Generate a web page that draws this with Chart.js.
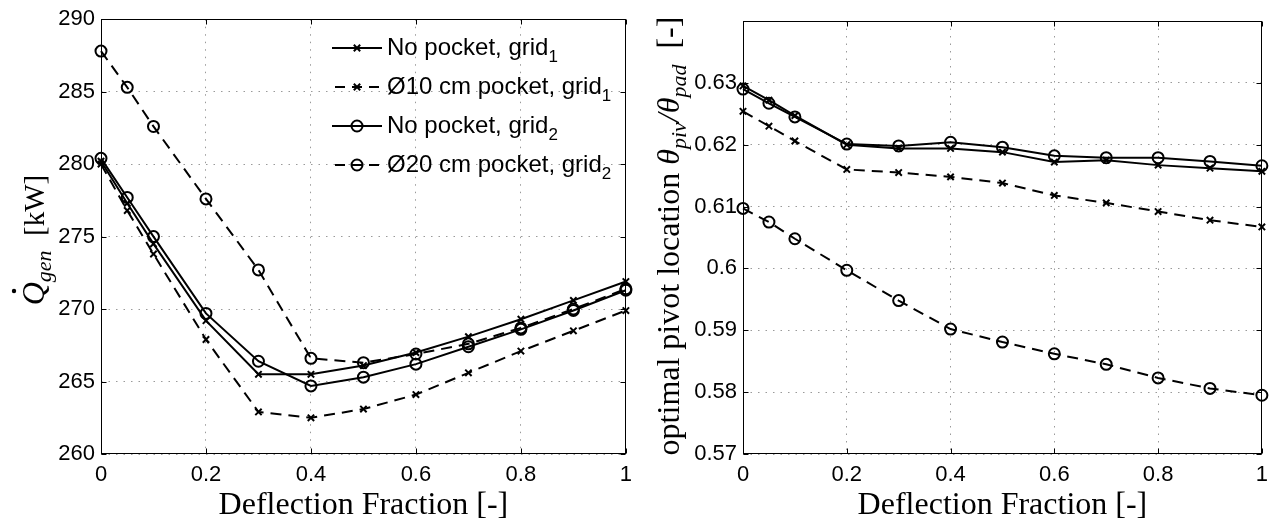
<!DOCTYPE html>
<html>
<head>
<meta charset="utf-8">
<script src="https://cdn.jsdelivr.net/npm/chart.js@4.4.1/dist/chart.umd.min.js"></script>
<style>
  html, body { margin: 0; padding: 0; background: #fff; }
  #wrap { position: relative; width: 1276px; height: 524px; }
  canvas { position: absolute; top: 0; }
  #chart-heat { left: 0; }
  #chart-pivot { left: 640px; }
</style>
</head>
<body>
<div id="wrap">
  <canvas id="chart-heat" width="640" height="524"></canvas>
  <canvas id="chart-pivot" width="636" height="524"></canvas>
</div>
<script>
const deflection = [0, 0.05, 0.1, 0.2, 0.3, 0.4, 0.5, 0.6, 0.7, 0.8, 0.9, 1];

const seriesLabels = ['No pocket, grid_1', 'Ø10 cm pocket, grid_1', 'No pocket, grid_2', 'Ø20 cm pocket, grid_2'];

// generated heat, kW
const heatNoPocketG1 = [280.2, 277.3, 274.5, 269.2, 265.5, 265.5, 266.1, 267.0, 268.1, 269.3, 270.6, 271.9];
const heatPocket10G1 = [280.0, 276.8, 273.8, 267.9, 262.9, 262.5, 263.1, 264.1, 265.6, 267.1, 268.5, 269.9];
const heatNoPocketG2 = [280.4, 277.7, 275.0, 269.7, 266.4, 264.7, 265.3, 266.2, 267.4, 268.6, 269.9, 271.3];
const heatPocket20G2 = [287.8, 285.3, 282.6, 277.6, 272.7, 266.6, 266.3, 266.9, 267.6, 268.7, 270.0, 271.4];

// optimal pivot location, theta_piv / theta_pad
const pivotNoPocketG1 = [0.6295, 0.6272, 0.6247, 0.6200, 0.6194, 0.6194, 0.6188, 0.6172, 0.6175, 0.6167, 0.6162, 0.6157];
const pivotPocket10G1 = [0.6254, 0.6230, 0.6206, 0.6160, 0.6155, 0.6148, 0.6138, 0.6118, 0.6106, 0.6092, 0.6078, 0.6067];
const pivotNoPocketG2 = [0.6290, 0.6267, 0.6245, 0.6201, 0.6198, 0.6204, 0.6196, 0.6182, 0.6179, 0.6179, 0.6173, 0.6166];
const pivotPocket20G2 = [0.6097, 0.6075, 0.6048, 0.5997, 0.5948, 0.5902, 0.5881, 0.5862, 0.5845, 0.5823, 0.5806, 0.5795];

const xTicks = [0, 0.2, 0.4, 0.6, 0.8, 1];
const xTickLabels = ['0', '0.2', '0.4', '0.6', '0.8', '1'];
const heatTicks = [260, 265, 270, 275, 280, 285, 290];
const heatTickLabels = ['260', '265', '270', '275', '280', '285', '290'];
const pivotTicks = [0.57, 0.58, 0.59, 0.6, 0.61, 0.62, 0.63, 0.64];
const pivotTickLabels = ['0.57', '0.58', '0.59', '0.6', '0.61', '0.62', '0.63', ''];

const SANS = 'Liberation Sans';
const SERIF = 'Liberation Serif';

function pairs(ys) {
  return deflection.map((x, i) => ({x: x, y: ys[i]}));
}

function makeDataset(label, ys, dashed, marker) {
  return {
    label: label,
    data: pairs(ys),
    borderColor: '#000',
    borderWidth: 2,
    borderDash: dashed ? [11, 7] : [],
    pointStyle: marker,
    pointRadius: marker === 'circle' ? 5.5 : 4.5,
    pointBorderWidth: 2,
    pointBorderColor: '#000',
    pointBackgroundColor: 'rgba(0,0,0,0)',
    tension: 0,
    clip: false
  };
}

// text with sub/superscript pieces: [text, font, dy, dot]
function richText(ctx, parts, cx, baseY) {
  let total = 0;
  for (const p of parts) {
    ctx.font = p[1];
    total += ctx.measureText(p[0]).width;
  }
  let u = cx - total / 2;
  for (const p of parts) {
    ctx.font = p[1];
    const w = ctx.measureText(p[0]).width;
    ctx.fillText(p[0], u, baseY + (p[2] || 0));
    if (p[3]) {
      ctx.beginPath();
      ctx.arc(u + w * 0.62, baseY - 30, 2.2, 0, Math.PI * 2);
      ctx.fill();
    }
    u += w;
  }
}

function leftText(ctx, parts, x, y) {
  let u = x;
  for (const p of parts) {
    ctx.font = p[1];
    ctx.fillText(p[0], u, y + (p[2] || 0));
    u += ctx.measureText(p[0]).width;
  }
}

// matlab style frame, inward ticks and axis titles
const matlabAxes = {
  id: 'matlabAxes',
  afterDraw(chart, args, opts) {
    const {ctx, chartArea: a, scales: {x, y}} = chart;
    ctx.save();
    ctx.strokeStyle = '#000';
    ctx.fillStyle = '#000';
    ctx.lineWidth = 1;
    ctx.setLineDash([]);
    const l = Math.round(a.left) + 0.5, r = Math.round(a.right) - 0.5;
    const t = Math.round(a.top) + 0.5, b = Math.round(a.bottom) - 0.5;
    ctx.strokeRect(l, t, r - l, b - t);
    ctx.beginPath();
    for (const tk of x.ticks) {
      const px = Math.round(x.getPixelForValue(tk.value)) + 0.5;
      ctx.moveTo(px, b); ctx.lineTo(px, b - 5);
      ctx.moveTo(px, t); ctx.lineTo(px, t + 5);
    }
    for (const tk of y.ticks) {
      const py = Math.round(y.getPixelForValue(tk.value)) + 0.5;
      ctx.moveTo(l, py); ctx.lineTo(l + 5, py);
      ctx.moveTo(r, py); ctx.lineTo(r - 5, py);
    }
    ctx.stroke();

    ctx.textBaseline = 'alphabetic';
    ctx.textAlign = 'left';
    richText(ctx, [['Deflection Fraction [-]', '32px ' + SERIF]], (a.left + a.right) / 2, 514);

    ctx.translate(opts.titleX, opts.titleY);
    ctx.rotate(-Math.PI / 2);
    richText(ctx, opts.title, 0, 0);
    ctx.restore();
  }
};

// legend drawn inside the axes, no box
const innerLegend = {
  id: 'innerLegend',
  afterDraw(chart, args, opts) {
    if (!opts.show) return;
    const ctx = chart.ctx;
    ctx.save();
    ctx.strokeStyle = '#000';
    ctx.fillStyle = '#000';
    ctx.textBaseline = 'middle';
    ctx.textAlign = 'left';
    chart.data.datasets.forEach((ds, i) => {
      const yy = opts.top + i * opts.step;
      ctx.lineWidth = 2;
      ctx.beginPath();
      if (ds.borderDash.length) {
        ctx.setLineDash([10, 7]);
        ctx.moveTo(opts.left + 3, yy); ctx.lineTo(opts.left + 47, yy);
      } else {
        ctx.setLineDash([]);
        ctx.moveTo(opts.left, yy); ctx.lineTo(opts.left + 50, yy);
      }
      ctx.stroke();
      ctx.setLineDash([]);
      ctx.fillStyle = 'rgba(0,0,0,0)';
      Chart.helpers.drawPoint(ctx, {
        pointStyle: ds.pointStyle,
        radius: ds.pointRadius,
        borderWidth: ds.pointBorderWidth,
        rotation: 0
      }, opts.left + 25, yy);
      ctx.fillStyle = '#000';
      const bits = ds.label.split('_');
      leftText(ctx, [[bits[0], '24px ' + SANS], [bits[1] || '', '17px ' + SANS, 9]], opts.left + 55, yy);
    });
    ctx.restore();
  }
};

function axisConfig(ticks, labels, fitWidth, minV, maxV) {
  return {
    type: 'linear',
    min: minV,
    max: maxV,
    afterBuildTicks: s => { s.ticks = ticks.map(v => ({value: v})); },
    afterFit: s => { s.width = fitWidth; },
    grid: { color: '#9a9a9a', lineWidth: 1, drawTicks: false },
    border: { display: false, dash: [1.5, 6] },
    ticks: {
      padding: 6,
      color: '#000',
      font: { family: SANS, size: 22 },
      autoSkip: false,
      callback: (v, i) => labels[i]
    }
  };
}

function xConfig() {
  return {
    type: 'linear',
    min: 0,
    max: 1,
    afterBuildTicks: s => { s.ticks = xTicks.map(v => ({value: v})); },
    afterFit: s => { s.height = 70; },
    grid: { color: '#9a9a9a', lineWidth: 1, drawTicks: false },
    border: { display: false, dash: [1.5, 6] },
    ticks: {
      padding: 8,
      color: '#000',
      maxRotation: 0,
      autoSkip: false,
      font: { family: SANS, size: 22 },
      callback: (v, i) => xTickLabels[i]
    }
  };
}

const dataHeat = {
  datasets: [
    makeDataset(seriesLabels[0], heatNoPocketG1, false, 'crossRot'),
    makeDataset(seriesLabels[1], heatPocket10G1, true, 'crossRot'),
    makeDataset(seriesLabels[2], heatNoPocketG2, false, 'circle'),
    makeDataset(seriesLabels[3], heatPocket20G2, true, 'circle')
  ]
};

const dataPivot = {
  datasets: [
    makeDataset(seriesLabels[0], pivotNoPocketG1, false, 'crossRot'),
    makeDataset(seriesLabels[1], pivotPocket10G1, true, 'crossRot'),
    makeDataset(seriesLabels[2], pivotNoPocketG2, false, 'circle'),
    makeDataset(seriesLabels[3], pivotPocket20G2, true, 'circle')
  ]
};

const configHeat = {
  type: 'line',
  data: dataHeat,
  options: {
    responsive: false,
    animation: false,
    events: [],
    layout: { padding: { top: 18, right: 11, left: 0, bottom: 0 } },
    scales: {
      x: xConfig(),
      y: axisConfig(heatTicks, heatTickLabels, 101, 260, 290)
    },
    plugins: {
      legend: { display: false },
      tooltip: { enabled: false },
      innerLegend: { show: true, left: 332, top: 48, step: 39 },
      matlabAxes: {
        titleX: 44,
        titleY: 240,
        title: [
          ['Q', 'italic 32px ' + SERIF, 0, true],
          ['gen', 'italic 22px ' + SERIF, 7],
          ['  [kW]', '29px ' + SERIF]
        ]
      }
    }
  },
  plugins: [matlabAxes, innerLegend]
};

const configPivot = {
  type: 'line',
  data: dataPivot,
  options: {
    responsive: false,
    animation: false,
    events: [],
    layout: { padding: { top: 21, right: 7, left: 0, bottom: 0 } },
    scales: {
      x: xConfig(),
      y: axisConfig(pivotTicks, pivotTickLabels, 103, 0.57, 0.64)
    },
    plugins: {
      legend: { display: false },
      tooltip: { enabled: false },
      innerLegend: { show: false },
      matlabAxes: {
        titleX: 39,
        titleY: 236,
        title: [
          ['optimal pivot location ', '32px ' + SERIF],
          ['θ', 'italic 32px ' + SERIF],
          ['piv', 'italic 22px ' + SERIF, 7],
          ['/', 'italic 32px ' + SERIF],
          ['θ', 'italic 32px ' + SERIF],
          ['pad', 'italic 22px ' + SERIF, 7],
          ['  [-]', '32px ' + SERIF]
        ]
      }
    }
  },
  plugins: [matlabAxes, innerLegend]
};

const chartHeat = new Chart(document.getElementById('chart-heat'), configHeat);
const chartPivot = new Chart(document.getElementById('chart-pivot'), configPivot);
</script>
</body>
</html>
